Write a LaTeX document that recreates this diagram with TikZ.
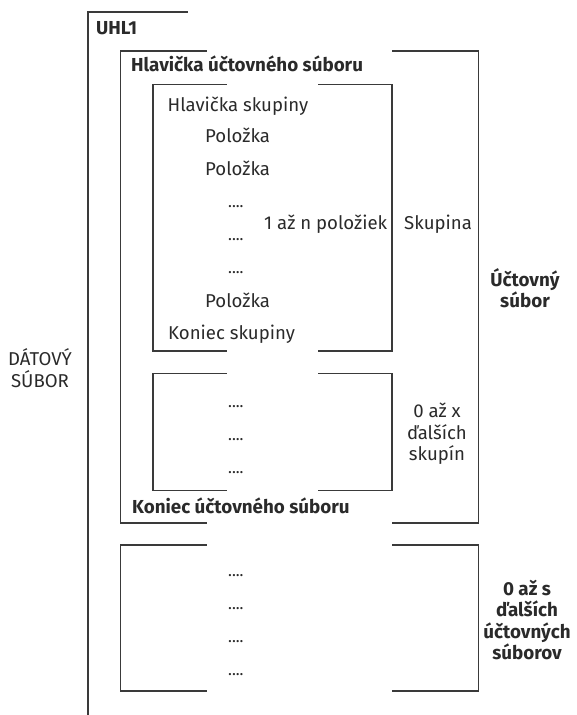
\documentclass[tikz,border=0pt]{standalone}
\usepackage{fontspec}
\setmainfont{Fira Sans}
\definecolor{ink}{HTML}{2A2A2A}
\definecolor{linec}{HTML}{3A3A3A}
\begin{document}
\begin{tikzpicture}[x=1pt,y=-1pt,
  br/.style={draw=linec,line width=1.4pt,line cap=rect},
  txt/.style={inner sep=0pt,anchor=base west,text=ink,font=\fontsize{18.6}{21.5}\selectfont},
  btxt/.style={txt,font=\fontsize{18.8}{21.5}\selectfont\bfseries},
  dots/.style={txt,font=\fontsize{16}{21}\selectfont},
  ctxt/.style={inner sep=0pt,anchor=center,align=center,text=ink,font=\fontsize{18.6}{21.5}\selectfont},
  cbtxt/.style={ctxt,font=\fontsize{18.8}{21.5}\selectfont\bfseries}]
\useasboundingbox (0,0) rectangle (577,715);
% outer bracket
\draw[br] (187,12) -- (88,12) -- (88,715);
% account file bracket
\draw[br] (206,51) -- (120.5,51) -- (120.5,523) -- (206,523);
\draw[br] (393,51) -- (478.5,51) -- (478.5,523) -- (393,523);
% group bracket
\draw[br] (226.5,84.5) -- (153,84.5) -- (153,351) -- (226.5,351);
\draw[br] (319,84.5) -- (392,84.5) -- (392,351) -- (319,351);
% further groups bracket
\draw[br] (226.5,373.5) -- (153,373.5) -- (153,490.5) -- (226.5,490.5);
\draw[br] (319,373.5) -- (392,373.5) -- (392,490.5) -- (319,490.5);
% further account files bracket
\draw[br] (206,545) -- (120.5,545) -- (120.5,691) -- (206,691);
\draw[br] (393,545) -- (478.5,545) -- (478.5,691) -- (393,691);
% texts
\node[btxt] (uhl) at (96,34) {UHL1};
\node[btxt] (hus) at (131,71) {Hlavička účtovného súboru};
\node[txt] (hs) at (167.5,111) {Hlavička skupiny};
\node[txt] (p1) at (205,142) {Položka};
\node[txt] (p2) at (205,175) {Položka};
\node[dots] (d1) at (228,207) {....};
\node[txt] (n) at (264,229) {1 až n položiek};
\node[txt] (sk) at (404,229) {Skupina};
\node[dots] (d2) at (228,240) {....};
\node[dots] (d3) at (228,273) {....};
\node[txt] (p3) at (205,307) {Položka};
\node[txt] (ks) at (168,339) {Koniec skupiny};
\node[dots] (e1) at (228,407) {....};
\node[dots] (e2) at (228,440) {....};
\node[dots] (e3) at (228,473) {....};
\node[ctxt] (x) at (437,434) {0 až x\\ďalších\\skupín};
\node[btxt] (kus) at (132,513) {Koniec účtovného súboru};
\node[cbtxt] (us) at (525,288) {Účtovný\\súbor};
\node[ctxt] (ds) at (40,368) {DÁTOVÝ\\SÚBOR};
\node[dots] (f1) at (228,576) {....};
\node[dots] (f2) at (228,609) {....};
\node[dots] (f3) at (228,642) {....};
\node[dots] (f4) at (228,675) {....};
\node[cbtxt] (s) at (527,620) {0 až s\\ďalších\\účtovných\\súborov};
\end{tikzpicture}
\end{document}
